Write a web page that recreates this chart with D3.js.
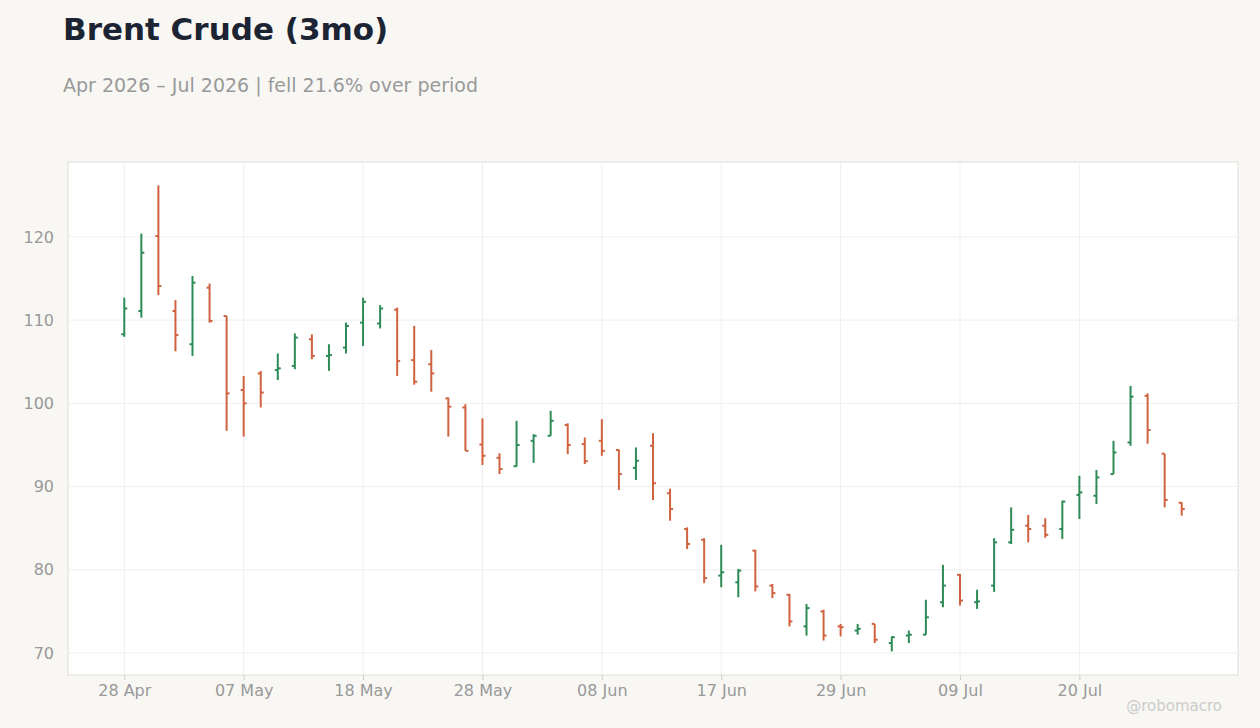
<!DOCTYPE html>
<html><head><meta charset="utf-8">
<script src="https://cdn.jsdelivr.net/npm/d3@7"></script>
<style>body{margin:0;background:#f8f7f4;font-family:"DejaVu Sans",sans-serif}</style>
</head><body><svg id="c" width="1260" height="728"></svg>
<script>
const dates=["Apr 28","Apr 29","Apr 30","May 1","May 4","May 5","May 6","May 7","May 8","May 11","May 12","May 13","May 14","May 15","May 18","May 19","May 20","May 21","May 22","May 26","May 27","May 28","May 29","Jun 1","Jun 2","Jun 3","Jun 4","Jun 5","Jun 8","Jun 9","Jun 10","Jun 11","Jun 12","Jun 15","Jun 16","Jun 17","Jun 18","Jun 22","Jun 23","Jun 24","Jun 25","Jun 26","Jun 29","Jun 30","Jul 1","Jul 2","Jul 6","Jul 7","Jul 8","Jul 9","Jul 10","Jul 13","Jul 14","Jul 15","Jul 16","Jul 17","Jul 20","Jul 21","Jul 22","Jul 23","Jul 24","Jul 27","Jul 28"];
const open=[108.3,111.1,120.1,111.1,107.1,113.9,110.5,101.6,103.6,104.0,104.5,107.7,105.7,106.7,109.7,109.6,111.25,105.2,104.7,100.6,99.5,95.05,93.45,92.45,95.5,96.1,97.4,95.1,95.5,94.4,92.25,94.9,89.2,84.9,83.6,79.3,78.5,82.3,78.1,77.0,73.2,75.0,73.2,72.7,73.5,71.2,72.1,72.2,76.1,79.4,76.1,78.1,83.3,85.3,85.3,84.9,89.0,88.9,91.5,95.3,100.9,93.95,88.05];
const high=[112.7,120.4,126.2,112.4,115.3,114.4,110.5,103.3,103.9,106.0,108.4,108.3,107.1,109.7,112.7,111.8,111.5,109.3,106.4,100.7,99.9,98.2,94.0,97.9,96.3,99.1,97.6,95.9,98.1,94.45,94.7,96.4,89.75,85.1,83.8,83.0,80.1,82.4,78.3,77.1,75.9,75.2,73.5,73.5,73.5,72.0,72.7,76.4,80.6,79.5,77.6,83.8,87.5,86.6,86.2,88.3,91.3,92.0,95.5,102.1,101.2,93.95,88.1];
const low=[108.0,110.3,113.0,106.25,105.7,109.7,96.7,96.0,99.5,102.8,104.1,105.3,103.9,106.0,106.9,109.0,103.3,102.25,101.4,96.0,94.3,92.6,91.5,92.4,92.85,96.1,93.9,92.7,93.7,89.6,90.8,88.4,85.9,82.5,78.4,77.9,76.7,77.4,76.6,73.2,72.1,71.5,72.0,72.2,71.2,70.2,71.2,72.2,75.5,75.7,75.3,77.35,83.1,83.3,83.85,83.7,86.1,87.9,91.5,94.9,95.15,87.5,86.5];
const close=[111.4,118.1,114.1,108.2,114.5,109.9,101.2,100.0,101.3,104.2,107.9,105.7,105.8,109.3,112.2,111.4,105.1,102.6,103.6,99.6,94.3,93.7,92.1,95.0,96.1,97.9,95.0,93.05,94.3,91.5,93.1,90.4,87.3,83.1,79.0,79.7,79.9,78.0,77.2,73.8,75.4,72.1,73.1,72.9,71.6,71.9,72.2,74.3,78.1,76.3,76.2,83.3,84.8,84.9,84.2,88.2,89.3,91.1,94.1,100.8,96.8,88.4,87.3];
const tickIdx=[0,7,14,21,28,35,42,49,56];
const tickLabels=["28 Apr","07 May","18 May","28 May","08 Jun","17 Jun","29 Jun","09 Jul","20 Jul"];
const yTicks=[70,80,90,100,110,120];

const svg=d3.select("#c");
const L=68,R=1238,T=162,B=675;
const x=d3.scaleLinear().domain([-3.3,65.3]).range([L,R]);
const y=d3.scaleLinear().domain([67.36,129.0]).range([B,T]);
svg.append("rect").attr("x",L).attr("y",T).attr("width",R-L).attr("height",B-T).attr("fill","#fff").attr("stroke","#e0ddd8");
const g=svg.append("g");
g.selectAll(".gy").data(yTicks).join("line").attr("x1",L).attr("x2",R).attr("y1",d=>y(d)).attr("y2",d=>y(d)).attr("stroke","#efefef");
g.selectAll(".gx").data(tickIdx).join("line").attr("y1",T).attr("y2",B).attr("x1",d=>x(d)).attr("x2",d=>x(d)).attr("stroke","#efefef");
const xa=svg.append("g").attr("transform",`translate(0,${B})`).call(d3.axisBottom(x).tickValues(tickIdx).tickFormat((d,i)=>tickLabels[i]).tickSize(5).tickPadding(5));
xa.select(".domain").remove();
xa.selectAll("line").attr("stroke","#ccc");
xa.selectAll("text").attr("fill","#999").style("font-size","16px").style("font-family","DejaVu Sans");
const ya=svg.append("g").attr("transform",`translate(${L},0)`).call(d3.axisLeft(y).tickValues(yTicks).tickSize(0).tickPadding(14));
ya.select(".domain").remove();
ya.selectAll("text").attr("fill","#999").style("font-size","16px").style("font-family","DejaVu Sans");
const bars=svg.append("g").selectAll("g").data(dates.map((d,i)=>i)).join("g")
 .attr("stroke",i=>close[i]>=open[i]?"#2e8b57":"#d0623f").attr("stroke-width",2);
bars.append("line").attr("x1",i=>x(i)).attr("x2",i=>x(i)).attr("y1",i=>y(high[i])).attr("y2",i=>y(low[i]));
bars.append("line").attr("x1",i=>x(i)-3).attr("x2",i=>x(i)).attr("y1",i=>y(open[i])).attr("y2",i=>y(open[i]));
bars.append("line").attr("x1",i=>x(i)).attr("x2",i=>x(i)+3).attr("y1",i=>y(close[i])).attr("y2",i=>y(close[i]));
svg.append("text").attr("x",63).attr("y",40).text("Brent Crude (3mo)").attr("fill","#1c2333").style("font-size","31px").style("font-weight","bold");
svg.append("text").attr("x",63).attr("y",92).text("Apr 2026 – Jul 2026 | fell 21.6% over period").attr("fill","#999").style("font-size","19px");
svg.append("text").attr("x",1222).attr("y",711).attr("text-anchor","end").text("@robomacro").attr("fill","#ccc").style("font-size","15px");
</script></body></html>
